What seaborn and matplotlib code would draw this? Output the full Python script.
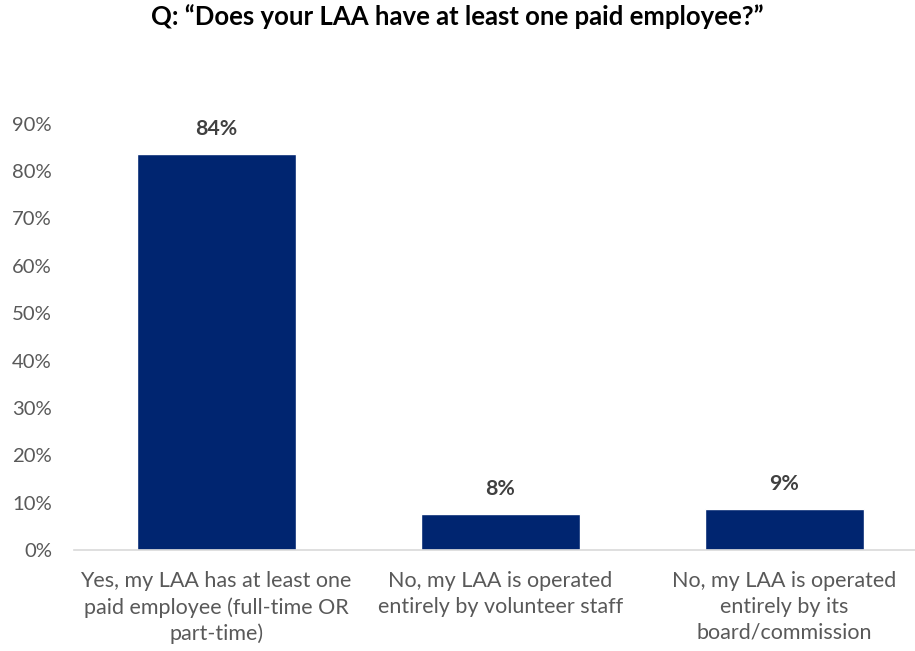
import numpy as np
import pandas as pd
import matplotlib.pyplot as plt
import seaborn as sns
from matplotlib.ticker import PercentFormatter

categories = ["Yes, my LAA has at least one\npaid employee (full-time OR\npart-time)",
              "No, my LAA is operated\nentirely by volunteer staff",
              "No, my LAA is operated\nentirely by its\nboard/commission"]
values = [0.835, 0.076, 0.087]
labels = ["84%", "8%", "9%"]
yticks = [0, 0.1, 0.2, 0.3, 0.4, 0.5, 0.6, 0.7, 0.8, 0.9]

sns.set_style("white")
plt.rcParams['font.family'] = ['Lato', 'DejaVu Sans']

df = pd.DataFrame({"cat": categories, "val": values})

fig = plt.figure(figsize=(9.15, 6.51), dpi=100)
ax = fig.add_axes([0.081, 0.155, 0.919, 0.655])
sns.barplot(data=df, x="cat", y="val", color="#002570", width=0.56, saturation=1, ax=ax)

ax.set_ylim(0, 0.9)
ax.set_xlim(-0.5, 2.46)
ax.set_yticks(yticks)
ax.yaxis.set_major_formatter(PercentFormatter(1.0, decimals=0))
ax.tick_params(axis="y", labelsize=14.6, colors="#595959", length=0, pad=16)
ax.tick_params(axis="x", labelsize=15.5, colors="#595959", length=0, pad=15)
ax.set_xlabel("")
ax.set_ylabel("")
for s in ["top", "right", "left"]:
    ax.spines[s].set_visible(False)
ax.spines["bottom"].set_color("#d9d9d9")
ax.spines["bottom"].set_linewidth(1.2)
for t in ax.get_xticklabels():
    t.set_linespacing(1.37)

for i, (v, l) in enumerate(zip(values, labels)):
    ax.annotate(l, (i, v), xytext=(0, 11), textcoords="offset points",
                ha="center", va="bottom", fontsize=15.3, fontweight="bold", color="#404040")

fig.text(0.5, 0.974, "Q: \u201cDoes your LAA have at least one paid employee?\u201d",
         ha="center", va="center", fontsize=18.5, fontweight="bold", color="black")

fig.savefig("out.png", dpi=100)
